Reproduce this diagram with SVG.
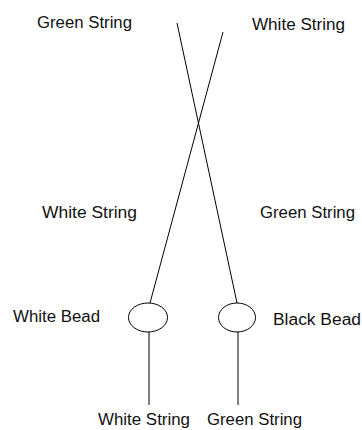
<svg xmlns="http://www.w3.org/2000/svg" width="362" height="430" viewBox="0 0 362 430">
<style>
text{font-family:"Liberation Sans",Arial,sans-serif;font-size:16px;fill:#111}
.s{stroke:#000;stroke-width:1;fill:none}
</style>
<rect width="362" height="430" fill="#fff"/>
<g id="connectors">
<line class="s" x1="177" y1="23" x2="237" y2="303"/>
<line class="s" x1="223" y1="32" x2="150" y2="303"/>
<line class="s" x1="149" y1="332" x2="149" y2="405"/>
<line class="s" x1="238" y1="332" x2="238" y2="405"/>
</g>
<g id="whiteBead"><ellipse class="s" cx="148" cy="317.5" rx="19.5" ry="14.5"/></g>
<g id="blackBead"><ellipse class="s" cx="237" cy="317.5" rx="18.5" ry="14.5"/></g>
<g id="labels">
<text x="37" y="28" textLength="95" lengthAdjust="spacingAndGlyphs">Green String</text>
<text x="252" y="30" textLength="93" lengthAdjust="spacingAndGlyphs">White String</text>
<text x="42" y="218" textLength="95" lengthAdjust="spacingAndGlyphs">White String</text>
<text x="260" y="218" textLength="95" lengthAdjust="spacingAndGlyphs">Green String</text>
<text x="13" y="322" textLength="87" lengthAdjust="spacingAndGlyphs">White Bead</text>
<text x="273" y="325" textLength="88" lengthAdjust="spacingAndGlyphs">Black Bead</text>
<text x="98" y="425" textLength="92" lengthAdjust="spacingAndGlyphs">White String</text>
<text x="207" y="425" textLength="95" lengthAdjust="spacingAndGlyphs">Green String</text>
</g>
</svg>
